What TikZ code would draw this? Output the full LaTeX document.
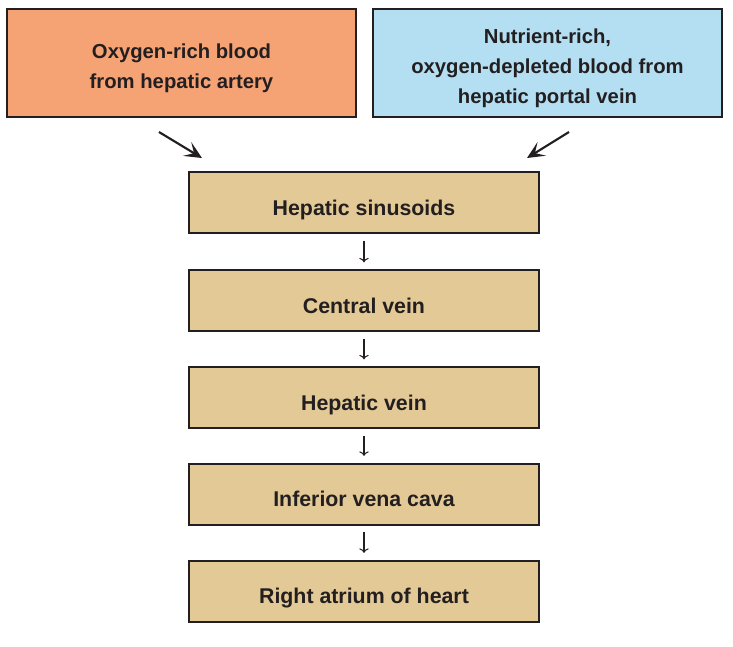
\documentclass[tikz,border=0pt]{standalone}
\usepackage{fontspec}
\setmainfont{Liberation Sans}
\usepackage{tikz}
\usetikzlibrary{shapes,arrows,arrows.meta,positioning,calc}
\usepackage{xcolor}

\definecolor{arterycol}{HTML}{F5A375}
\definecolor{portalcol}{HTML}{B4DEF2}
\definecolor{stepcol}{HTML}{E3C995}
\definecolor{inkcol}{HTML}{231F20}

% raises the first line of a source box
\newcommand{\toplift}{\rule{0pt}{19pt}}

\begin{document}
\begin{tikzpicture}[
    x=0.75pt, y=-0.75pt,
    every node/.style={text=inkcol},
    source/.style={
        rectangle,
        draw=inkcol,
        line width=1.5pt,
        minimum width=261.75pt,
        minimum height=81pt,
        align=center,
        font=\fontsize{15.2}{22.5}\selectfont\bfseries
    },
    stage/.style={
        rectangle,
        draw=inkcol,
        line width=1.5pt,
        fill=stepcol,
        minimum width=262.5pt,
        minimum height=45.75pt,
        text height=20pt,
        text depth=1pt,
        align=center,
        font=\fontsize{16}{22.5}\selectfont\bfseries
    },
    inflow/.style={-{Stealth[length=13pt,width=12pt,inset=6pt]}, line width=1.6pt, draw=inkcol},
    onward/.style={->, line width=0.8pt, draw=inkcol, shorten <=5pt, shorten >=5pt}
]

\useasboundingbox (0,0) rectangle (733,647);

% Blood sources
\node[source, fill=arterycol] (artery) at (181.5, 63) {
    \toplift Oxygen-rich blood\\
    from hepatic artery
};

\node[source, fill=portalcol] (portal) at (547.5, 63) {
    \toplift Nutrient-rich,\\
    oxygen-depleted blood from\\
    hepatic portal vein
};

% Path through the liver
\node[stage] (sinus) at (364, 202.5) {Hepatic sinusoids};
\node[stage] (central) at (364, 300.5) {Central vein};
\node[stage] (hepvein) at (364, 397.5) {Hepatic vein};
\node[stage] (cava) at (364, 494) {Inferior vena cava};
\node[stage] (atrium) at (364, 591) {Right atrium of heart};

% Inflow into the sinusoids
\coordinate (artout) at (159, 132);
\coordinate (artin) at (202, 158);
\coordinate (portout) at (569, 132);
\coordinate (portin) at (527, 158);
\draw[inflow] (artout) -- (artin);
\draw[inflow] (portout) -- (portin);

% Onward flow
\foreach \a/\b in {sinus/central, central/hepvein, hepvein/cava, cava/atrium} {
    \draw[onward] (\a) -- (\b);
}

\end{tikzpicture}
\end{document}
